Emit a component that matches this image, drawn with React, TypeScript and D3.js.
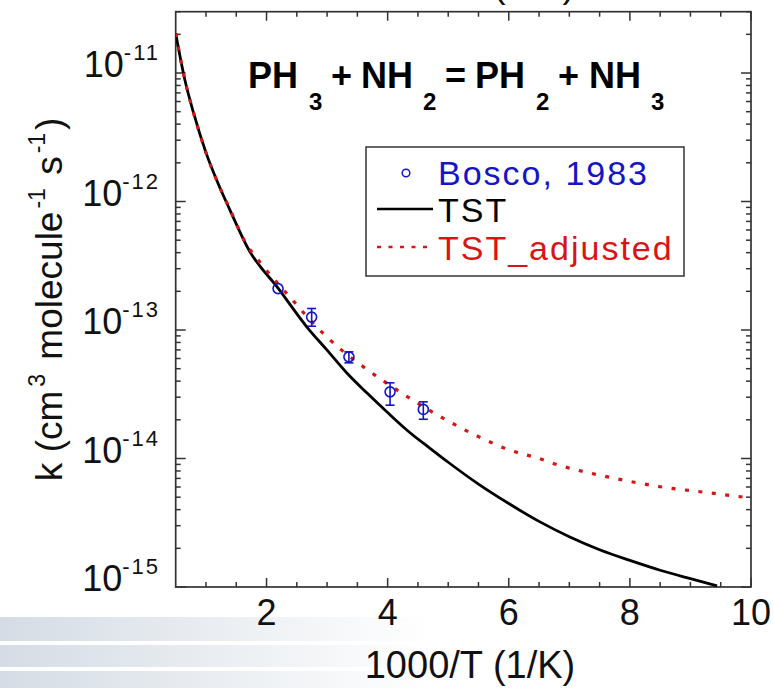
import React from "react";
import * as d3 from "d3";

// ---- data ----
const tstX = [0.5, 0.65, 0.8, 1.0, 1.2, 1.4, 1.7, 2.2, 2.67, 3.0, 3.33, 3.66, 3.99, 4.32, 4.7, 5.0, 5.5, 6.0, 6.5, 7.0, 7.5, 8.0, 8.5, 9.0, 9.44];
const tstK = [2.04e-11, 8.9e-12, 4.8e-12, 2.4e-12, 1.38e-12, 8.5e-13, 4.27e-13, 2.09e-13, 1.05e-13, 6.97e-14, 4.61e-14, 3.23e-14, 2.3e-14, 1.66e-14, 1.2e-14, 9.35e-15, 6.32e-15, 4.46e-15, 3.24e-15, 2.46e-15, 1.95e-15, 1.61e-15, 1.35e-15, 1.16e-15, 1.02e-15];

const adjX = [0.5, 0.65, 0.8, 1.0, 1.2, 1.4, 1.65, 1.89, 2.415, 2.8, 3.24, 3.654, 4.286, 4.914, 5.5, 6.0, 6.5, 6.79, 7.655, 8.5, 9.35, 10.0];
const adjK = [2.04e-11, 8.9e-12, 4.8e-12, 2.4e-12, 1.38e-12, 8.6e-13, 4.8e-13, 3.37e-13, 1.74e-13, 1.09e-13, 6.97e-14, 4.95e-14, 3.11e-14, 2.06e-14, 1.48e-14, 1.17e-14, 1.0e-14, 8.99e-15, 7.16e-15, 6.03e-15, 5.38e-15, 4.92e-15];

const boscoX = [2.19, 2.745, 3.36, 4.04, 4.589];
const boscoK = [2.1e-13, 1.26e-13, 6.18e-14, 3.3e-14, 2.41e-14];
const boscoHi = [2.1e-13, 1.47e-13, 6.76e-14, 3.88e-14, 2.76e-14];
const boscoLo = [2.1e-13, 1.07e-13, 5.55e-14, 2.6e-14, 2.02e-14];

const xMajor = [2, 4, 6, 8, 10];
const yExponents = [-15, -14, -13, -12, -11];

const legendLabels = ["Bosco, 1983", "TST", "TST_adjusted"];
const xAxisTitle = "1000/T (1/K)";

// ---- layout ----
const W = 774, H = 688;
const L = 175.7, R = 751, T = 11.7, B = 587;
const FONT = "'Liberation Sans', Arial, Helvetica, sans-serif";
const AX = "#333";

export default function App() {
  const x = d3.scaleLinear().domain([0.5, 10]).range([L, R]);
  const y = d3.scaleLog().domain([1e-15, 3e-11]).range([B, T]);

  const line = d3
    .line<[number, number]>()
    .x((d) => x(d[0]))
    .y((d) => y(d[1]))
    .curve(d3.curveMonotoneX);

  const tstPath = line(tstX.map((v, i) => [v, tstK[i]]) as [number, number][]) || "";
  const adjPath = line(adjX.map((v, i) => [v, adjK[i]]) as [number, number][]) || "";

  const xMinor = d3.range(1, 10, 0.5).filter((v) => !xMajor.includes(v));
  const yMinor: number[] = [];
  for (const e of yExponents) {
    for (let m = 2; m <= 9; m++) {
      const v = m * Math.pow(10, e);
      if (v <= 3e-11) yMinor.push(v);
    }
  }

  const blue = "#1414c8";
  const red = "#d81414";

  return (
    <svg
      width={W}
      height={H}
      style={{ position: "absolute", left: 0, top: 0, background: "#fff" }}
      fontFamily={FONT}
    >
      <defs>
        <linearGradient id="bg" x1="0" x2="1" y1="0" y2="0">
          <stop offset="0" stopColor="#d5dce5" />
          <stop offset="0.6" stopColor="#eef1f4" />
          <stop offset="1" stopColor="#ffffff" />
        </linearGradient>
        <clipPath id="plotclip">
          <rect x={L} y={T} width={R - L} height={B - T} />
        </clipPath>
      </defs>

      {/* slide background stripes */}
      <rect x={0} y={617} width={430} height={24} fill="url(#bg)" />
      <rect x={0} y={645} width={430} height={22} fill="url(#bg)" />
      <rect x={0} y={671} width={430} height={17} fill="url(#bg)" />

      {/* cut-off axis title of the plot above */}
      <text x={470} y={-3} fontSize={38} textAnchor="middle" fill="#111">
        {xAxisTitle}
      </text>

      {/* frame */}
      <rect x={L} y={T} width={R - L} height={B - T} fill="none" stroke={AX} strokeWidth={1.7} />

      {/* x ticks */}
      {xMajor.map((v) => (
        <g key={"xM" + v}>
          <line x1={x(v)} x2={x(v)} y1={B} y2={B - 9} stroke={AX} strokeWidth={1.5} />
          <line x1={x(v)} x2={x(v)} y1={T} y2={T + 9} stroke={AX} strokeWidth={1.5} />
        </g>
      ))}
      {xMinor.map((v) => (
        <g key={"xm" + v}>
          <line x1={x(v)} x2={x(v)} y1={B} y2={B - 5} stroke={AX} strokeWidth={1.5} />
          <line x1={x(v)} x2={x(v)} y1={T} y2={T + 5} stroke={AX} strokeWidth={1.5} />
        </g>
      ))}
      {xMajor.map((v) => (
        <text key={"xl" + v} x={x(v)} y={625} fontSize={36} textAnchor="middle" fill="#111">
          {v}
        </text>
      ))}

      {/* y ticks */}
      {yExponents.map((e) => {
        const v = Math.pow(10, e);
        return (
          <g key={"yM" + e}>
            <line x1={L} x2={L + 10} y1={y(v)} y2={y(v)} stroke={AX} strokeWidth={1.5} />
            <line x1={R} x2={R - 10} y1={y(v)} y2={y(v)} stroke={AX} strokeWidth={1.5} />
            <text x={160} y={y(v) + 4} fontSize={36} textAnchor="end" fill="#111">
              10
              <tspan fontSize={22} dy={-17} letterSpacing={2}>
                {String(e)}
              </tspan>
            </text>
          </g>
        );
      })}
      {yMinor.map((v, i) => (
        <g key={"ym" + i}>
          <line x1={L} x2={L + 5} y1={y(v)} y2={y(v)} stroke={AX} strokeWidth={1.5} />
          <line x1={R} x2={R - 5} y1={y(v)} y2={y(v)} stroke={AX} strokeWidth={1.5} />
        </g>
      ))}

      {/* curves */}
      <g clipPath="url(#plotclip)">
        <path d={tstPath} fill="none" stroke="#000" strokeWidth={2.8} />
        <path d={adjPath} fill="none" stroke={red} strokeWidth={3.2} strokeDasharray="4,9.5" />
      </g>

      {/* Bosco data with error bars */}
      {boscoX.map((v, i) => {
        const cx = x(v);
        const hi = y(boscoHi[i]);
        const lo = y(boscoLo[i]);
        const hasBar = Math.abs(lo - hi) > 1;
        return (
          <g key={"b" + i} stroke={blue} strokeWidth={1.6} fill="none">
            {hasBar && (
              <>
                <line x1={cx} x2={cx} y1={hi} y2={lo} />
                <line x1={cx - 4.5} x2={cx + 4.5} y1={hi} y2={hi} />
                <line x1={cx - 4.5} x2={cx + 4.5} y1={lo} y2={lo} />
              </>
            )}
            <circle cx={cx} cy={y(boscoK[i])} r={5} />
          </g>
        );
      })}

      {/* title */}
      <g fontSize={36} fontWeight="bold" fill="#000">
        <text x={248} y={88}>PH</text>
        <text x={309} y={110} fontSize={24}>3</text>
        <text x={331} y={88}>+</text>
        <text x={361} y={88}>NH</text>
        <text x={423} y={110} fontSize={24}>2</text>
        <text x={445} y={88}>=</text>
        <text x={475} y={88}>PH</text>
        <text x={536} y={110} fontSize={24}>2</text>
        <text x={558} y={88}>+</text>
        <text x={589} y={88}>NH</text>
        <text x={651} y={110} fontSize={24}>3</text>
      </g>

      {/* legend */}
      <rect x={366} y={147} width={318} height={129} fill="#fff" stroke={AX} strokeWidth={1.5} />
      <circle cx={406} cy={173} r={3.8} fill="none" stroke={blue} strokeWidth={1.5} />
      <text x={438} y={185} fontSize={34} letterSpacing={2} fill={blue}>{legendLabels[0]}</text>
      <line x1={377} x2={433} y1={209} y2={209} stroke="#000" strokeWidth={2.5} />
      <text x={438} y={222} fontSize={34} letterSpacing={2} fill="#000">{legendLabels[1]}</text>
      <line x1={377} x2={433} y1={247} y2={247} stroke={red} strokeWidth={2.5} strokeDasharray="4,7.5" />
      <text x={438} y={260} fontSize={34} letterSpacing={2} fill={red}>{legendLabels[2]}</text>

      {/* axis titles */}
      <text x={470} y={678} fontSize={38} textAnchor="middle" fill="#111">
        {xAxisTitle}
      </text>
      <text
        transform={`translate(62, ${(T + B) / 2}) rotate(-90)`}
        fontSize={37}
        textAnchor="middle"
        fill="#111"
      >
        k (cm
        <tspan fontSize={23} dy={-17} dx={4}>3</tspan>
        <tspan dy={17} dx={4}> molecule</tspan>
        <tspan fontSize={23} dy={-17} dx={3}>-1</tspan>
        <tspan dy={17} dx={3}> s</tspan>
        <tspan fontSize={23} dy={-17} dx={3}>-1</tspan>
        <tspan dy={17} dx={3}>)</tspan>
      </text>
    </svg>
  );
}
